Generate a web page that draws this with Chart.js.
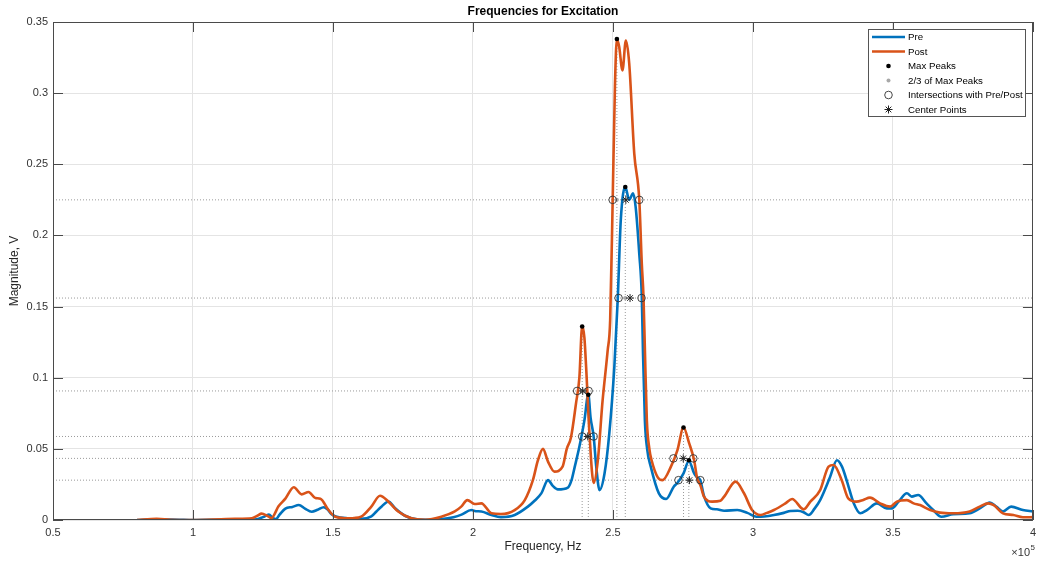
<!DOCTYPE html>
<html>
<head>
<meta charset="utf-8">
<title>Frequencies for Excitation</title>
<script src="https://cdn.jsdelivr.net/npm/chart.js@4.4.1/dist/chart.umd.min.js"></script>
<style>
    html, body { margin: 0; padding: 0; background: #fff; }
    #wrap { width: 1042px; height: 564px; position: relative; }
</style>
</head>
<body>
<div id="wrap"><canvas id="freqChart"></canvas></div>
<script>
// frequency in units of 1e5 Hz, magnitude in V
const preFreq = [0.80, 0.87, 0.95, 1.00, 1.10, 1.20, 1.228, 1.25, 1.271, 1.285,
    1.296, 1.31, 1.33, 1.355, 1.378, 1.40, 1.424, 1.445, 1.467, 1.48,
    1.495, 1.51, 1.556, 1.60, 1.637, 1.655, 1.674, 1.698, 1.722, 1.757,
    1.805, 1.85, 1.888, 1.93, 1.959, 1.994, 2.01, 2.03, 2.066, 2.10,
    2.149, 2.196, 2.22, 2.244, 2.268, 2.285, 2.303, 2.339, 2.352, 2.363,
    2.38, 2.398, 2.412, 2.42, 2.431, 2.44, 2.452, 2.47, 2.487, 2.505,
    2.517, 2.528, 2.544, 2.558, 2.572, 2.581, 2.594, 2.603, 2.607, 2.614,
    2.622, 2.635, 2.664, 2.69, 2.717, 2.73, 2.752, 2.771, 2.79, 2.80,
    2.812, 2.825, 2.849, 2.871, 2.897, 2.944, 2.98, 3.013, 3.04, 3.075,
    3.11, 3.134, 3.16, 3.181, 3.199, 3.22, 3.24, 3.275, 3.30, 3.318,
    3.336, 3.36, 3.383, 3.407, 3.443, 3.478, 3.496, 3.52, 3.55, 3.567,
    3.59, 3.62, 3.644, 3.673, 3.715, 3.774, 3.81, 3.846, 3.869, 3.893,
    3.922, 3.964, 4.0];
const preMag = [0, 0.0005, 0.0002, 0, 0.0002, 0.0003, 0.0005, 0.002, 0.0038, 0.0015,
    0.0007, 0.004, 0.008, 0.0092, 0.0105, 0.008, 0.0058, 0.0072, 0.009, 0.0075,
    0.004, 0.0025, 0.0012, 0.0008, 0.0025, 0.006, 0.0095, 0.013, 0.0082, 0.003,
    0.0003, 0.0002, 0.0006, 0.002, 0.0038, 0.007, 0.0062, 0.006, 0.0035, 0.002,
    0.0035, 0.0094, 0.0135, 0.0187, 0.028, 0.024, 0.0215, 0.0228, 0.028, 0.037,
    0.0515, 0.070, 0.0883, 0.072, 0.0587, 0.038, 0.021, 0.0328, 0.061, 0.108,
    0.155, 0.211, 0.234, 0.225, 0.2296, 0.22, 0.187, 0.157, 0.12, 0.07,
    0.05, 0.0375, 0.0187, 0.0148, 0.0234, 0.026, 0.0328, 0.0415, 0.0328, 0.030,
    0.028, 0.017, 0.0082, 0.0075, 0.0065, 0.007, 0.005, 0.0023, 0.0025, 0.0035,
    0.005, 0.0063, 0.0065, 0.0055, 0.0035, 0.008, 0.014, 0.030, 0.042, 0.0375,
    0.027, 0.0117, 0.0047, 0.007, 0.0117, 0.0082, 0.0082, 0.0129, 0.0188, 0.0164,
    0.0176, 0.0117, 0.007, 0.0023, 0.004, 0.0047, 0.0082, 0.0122, 0.0094, 0.006,
    0.0094, 0.007, 0.006];

const postFreq = [0.80, 0.87, 0.92, 1.00, 1.10, 1.15, 1.21, 1.23, 1.245, 1.265,
    1.28, 1.306, 1.33, 1.36, 1.388, 1.413, 1.437, 1.455, 1.484, 1.508,
    1.556, 1.60, 1.637, 1.668, 1.698, 1.733, 1.78, 1.829, 1.887, 1.935,
    1.958, 1.98, 2.006, 2.03, 2.066, 2.10, 2.149, 2.185, 2.214, 2.232,
    2.25, 2.268, 2.291, 2.32, 2.335, 2.35, 2.368, 2.38, 2.39, 2.398,
    2.404, 2.416, 2.431, 2.446, 2.463, 2.481, 2.49, 2.499, 2.507, 2.514,
    2.522, 2.534, 2.546, 2.558, 2.576, 2.594, 2.603, 2.609, 2.614, 2.621,
    2.63, 2.638, 2.66, 2.677, 2.707, 2.73, 2.752, 2.772, 2.79, 2.80,
    2.813, 2.825, 2.854, 2.884, 2.897, 2.938, 2.968, 2.997, 3.027, 3.05,
    3.075, 3.116, 3.14, 3.181, 3.205, 3.24, 3.27, 3.288, 3.317, 3.341,
    3.37, 3.394, 3.418, 3.454, 3.49, 3.514, 3.55, 3.574, 3.597, 3.633,
    3.668, 3.715, 3.774, 3.81, 3.84, 3.86, 3.893, 3.93, 3.964, 4.0];
const postMag = [0, 0.0008, 0.0002, 0, 0.0005, 0.0008, 0.0012, 0.003, 0.0045, 0.003,
    0.0014, 0.0098, 0.015, 0.023, 0.018, 0.0197, 0.0154, 0.015, 0.007, 0.0023,
    0.0012, 0.0023, 0.0094, 0.017, 0.0129, 0.006, 0.0012, 0.0002, 0.0023, 0.006,
    0.0094, 0.014, 0.0112, 0.0117, 0.0047, 0.0042, 0.007, 0.014, 0.028, 0.042,
    0.050, 0.041, 0.034, 0.0375, 0.05, 0.058, 0.082, 0.1, 0.1363, 0.128,
    0.108, 0.061, 0.026, 0.042, 0.084, 0.119, 0.1405, 0.225, 0.3045, 0.338,
    0.3327, 0.316, 0.337, 0.321, 0.2577, 0.225, 0.18, 0.157, 0.12, 0.07,
    0.05, 0.042, 0.030, 0.028, 0.0375, 0.049, 0.065, 0.054, 0.042, 0.030,
    0.024, 0.0164, 0.0129, 0.0135, 0.0164, 0.027, 0.0188, 0.007, 0.0035, 0.005,
    0.007, 0.0117, 0.0148, 0.0075, 0.0129, 0.021, 0.0375, 0.0387, 0.028, 0.015,
    0.0129, 0.0141, 0.0157, 0.0117, 0.0094, 0.0129, 0.014, 0.0117, 0.0105, 0.007,
    0.0052, 0.0047, 0.006, 0.0094, 0.0117, 0.0105, 0.0047, 0.0035, 0.0019, 0.002];

// peaks: post main, pre main, post 2nd, pre 2nd, post 3rd, pre 3rd
const maxPeakFreq = [2.514, 2.544, 2.39, 2.412, 2.752, 2.771];
const maxPeakMag = [0.338, 0.234, 0.136, 0.088, 0.065, 0.042];
const twoThirdMag = [0.225, 0.156, 0.0907, 0.0587, 0.0433, 0.028];
const crossLeft = [2.499, 2.52, 2.372, 2.39, 2.716, 2.734];
const crossRight = [2.594, 2.602, 2.413, 2.431, 2.787, 2.812];
const centerFreq = [2.546, 2.561, 2.392, 2.41, 2.751, 2.773];

const xTicks = [0.5, 1, 1.5, 2, 2.5, 3, 3.5, 4];
const xTickLabels = ['0.5', '1', '1.5', '2', '2.5', '3', '3.5', '4'];
const yTicks = [0, 0.05, 0.1, 0.15, 0.2, 0.25, 0.3, 0.35];
const yTickLabels = ['0', '0.05', '0.1', '0.15', '0.2', '0.25', '0.3', '0.35'];

const FONT = "'Liberation Sans', Arial, Helvetica, sans-serif";
const AXIS_COLOR = '#4a4a4a';
const GUIDE_COLOR = '#9a9a9a';

function toPoints(xs, ys) {
    return xs.map((x, i) => ({x: x, y: ys[i]}));
}

const levelLines = [];
twoThirdMag.forEach(v => {
    levelLines.push({x: xTicks[0], y: v}, {x: xTicks[xTicks.length - 1], y: v}, {x: xTicks[xTicks.length - 1], y: null});
});
const peakLines = [];
maxPeakFreq.forEach((f, i) => {
    peakLines.push({x: f, y: 0}, {x: f, y: maxPeakMag[i]}, {x: f, y: null});
});
const crossPoints = [];
twoThirdMag.forEach((v, i) => {
    crossPoints.push({x: crossLeft[i], y: v}, {x: crossRight[i], y: v});
});

function drawMarker(ctx, ds, x, y) {
    const r = ds.pointRadius;
    ctx.save();
    ctx.beginPath();
    if (ds.pointStyle === 'star') {
        for (let k = 0; k < 4; k++) {
            const a = k * Math.PI / 4;
            ctx.moveTo(x - r * Math.cos(a), y - r * Math.sin(a));
            ctx.lineTo(x + r * Math.cos(a), y + r * Math.sin(a));
        }
    } else {
        ctx.arc(x, y, r, 0, Math.PI * 2);
        ctx.fillStyle = ds.pointBackgroundColor;
        ctx.fill();
    }
    if (ds.pointBorderWidth > 0) {
        ctx.lineWidth = ds.pointBorderWidth;
        ctx.strokeStyle = ds.pointBorderColor;
        ctx.stroke();
    }
    ctx.restore();
}

// box, inward ticks, title, x10^5 and legend like the matlab figure
const matlabDecor = {
    id: 'matlabDecor',
    afterDraw(chart) {
        const ctx = chart.ctx;
        const {left, right, top, bottom} = chart.chartArea;
        const xs = chart.scales.x, ys = chart.scales.y;
        ctx.save();
        ctx.strokeStyle = AXIS_COLOR;
        ctx.lineWidth = 1;
        ctx.beginPath();
        xTicks.forEach(v => {
            const px = Math.round(xs.getPixelForValue(v)) + 0.5;
            ctx.moveTo(px, bottom); ctx.lineTo(px, bottom - 10);
            ctx.moveTo(px, top); ctx.lineTo(px, top + 10);
        });
        yTicks.forEach(v => {
            const py = Math.round(ys.getPixelForValue(v)) + 0.5;
            ctx.moveTo(left, py); ctx.lineTo(left + 10, py);
            ctx.moveTo(right, py); ctx.lineTo(right - 10, py);
        });
        ctx.stroke();
        ctx.strokeRect(Math.round(left) + 0.5, Math.round(top) + 0.5,
            Math.round(right - left) - 1, Math.round(bottom - top) - 1);

        ctx.fillStyle = '#000';
        ctx.font = 'bold 12px ' + FONT;
        ctx.textAlign = 'center';
        ctx.textBaseline = 'middle';
        ctx.fillText('Frequencies for Excitation', (left + right) / 2, 12);

        ctx.fillStyle = '#333';
        ctx.font = '11px ' + FONT;
        ctx.textAlign = 'right';
        ctx.textBaseline = 'alphabetic';
        ctx.fillText('\u00d710', 1030, 556);
        ctx.font = '8px ' + FONT;
        ctx.textAlign = 'left';
        ctx.fillText('5', 1030.5, 550);

        // legend
        const lx = 868.5, ly = 29.5, lw = 157, lh = 87;
        ctx.fillStyle = '#fff';
        ctx.fillRect(lx, ly, lw, lh);
        ctx.strokeStyle = '#555';
        ctx.strokeRect(lx, ly, lw, lh);
        ctx.font = '9.7px ' + FONT;
        ctx.textBaseline = 'middle';
        let row = 0;
        chart.data.datasets.forEach(ds => {
            if (ds.guide) return;
            const y = 37 + row * 14.5;
            if (ds.showLine === false) {
                drawMarker(ctx, ds, 888.5, y);
            } else {
                ctx.beginPath();
                ctx.strokeStyle = ds.borderColor;
                ctx.lineWidth = ds.borderWidth;
                ctx.moveTo(872, y); ctx.lineTo(905, y);
                ctx.stroke();
            }
            ctx.fillStyle = '#000';
            ctx.fillText(ds.label, 908, y + 0.5);
            row++;
        });
        ctx.restore();
    }
};

new Chart(document.getElementById('freqChart'), {
    type: 'line',
    data: {
        datasets: [
            {
                label: 'Pre', data: toPoints(preFreq, preMag),
                borderColor: '#0072BD', borderWidth: 2.6, pointRadius: 0,
                cubicInterpolationMode: 'monotone', order: 5
            },
            {
                label: 'Post', data: toPoints(postFreq, postMag),
                borderColor: '#D95319', borderWidth: 2.6, pointRadius: 0,
                cubicInterpolationMode: 'monotone', order: 4
            },
            {
                label: 'Max Peaks', data: toPoints(maxPeakFreq, maxPeakMag), showLine: false,
                pointStyle: 'circle', pointRadius: 2.3, pointBackgroundColor: '#000',
                pointBorderColor: '#000', pointBorderWidth: 0, order: 0
            },
            {
                label: '2/3 of Max Peaks', data: toPoints(maxPeakFreq, twoThirdMag), showLine: false,
                pointStyle: 'circle', pointRadius: 2, pointBackgroundColor: '#a8a8a8',
                pointBorderColor: '#a8a8a8', pointBorderWidth: 0, order: 3
            },
            {
                label: 'Intersections with Pre/Post', data: crossPoints, showLine: false,
                pointStyle: 'circle', pointRadius: 3.8, pointBackgroundColor: 'rgba(0,0,0,0)',
                pointBorderColor: '#333', pointBorderWidth: 0.9, order: 1
            },
            {
                label: 'Center Points', data: toPoints(centerFreq, twoThirdMag), showLine: false,
                pointStyle: 'star', pointRadius: 4, pointBackgroundColor: 'rgba(0,0,0,0)',
                pointBorderColor: '#222', pointBorderWidth: 1, order: 2
            },
            {
                label: 'levels', guide: true, data: levelLines, pointRadius: 0,
                borderColor: GUIDE_COLOR, borderWidth: 1, borderDash: [1, 2], spanGaps: false, order: 8
            },
            {
                label: 'peaks', guide: true, data: peakLines, pointRadius: 0,
                borderColor: GUIDE_COLOR, borderWidth: 1, borderDash: [1, 2], spanGaps: false, order: 9
            }
        ]
    },
    options: {
        responsive: true,
        maintainAspectRatio: false,
        animation: false,
        events: [],
        layout: { padding: { top: 22, right: 5, left: 0, bottom: 0 } },
        plugins: {
            legend: { display: false },
            tooltip: { enabled: false },
            title: { display: false }
        },
        scales: {
            x: {
                type: 'linear', min: 0.5, max: 4,
                afterBuildTicks: s => { s.ticks = xTicks.map(v => ({value: v})); },
                afterFit: s => { s.height = 44; },
                grid: { color: '#e4e4e4', drawTicks: false },
                border: { display: false },
                ticks: {
                    padding: 6, color: '#333', maxRotation: 0,
                    font: { family: FONT, size: 11 },
                    callback: (v, i) => xTickLabels[i]
                },
                title: {
                    display: true, text: 'Frequency, Hz', color: '#262626',
                    font: { family: FONT, size: 12 }, padding: { top: 0, bottom: 10 }
                }
            },
            y: {
                type: 'linear', min: 0, max: 0.35,
                afterBuildTicks: s => { s.ticks = yTicks.map(v => ({value: v})); },
                afterFit: s => { s.width = 53; },
                grid: { color: '#e4e4e4', drawTicks: false },
                border: { display: false },
                ticks: {
                    padding: 5, color: '#333',
                    font: { family: FONT, size: 11 },
                    callback: (v, i) => yTickLabels[i]
                },
                title: {
                    display: true, text: 'Magnitude, V', color: '#262626',
                    font: { family: FONT, size: 12 }, padding: { top: 7, bottom: 0 }
                }
            }
        }
    },
    plugins: [matlabDecor]
});
</script>
</body>
</html>
